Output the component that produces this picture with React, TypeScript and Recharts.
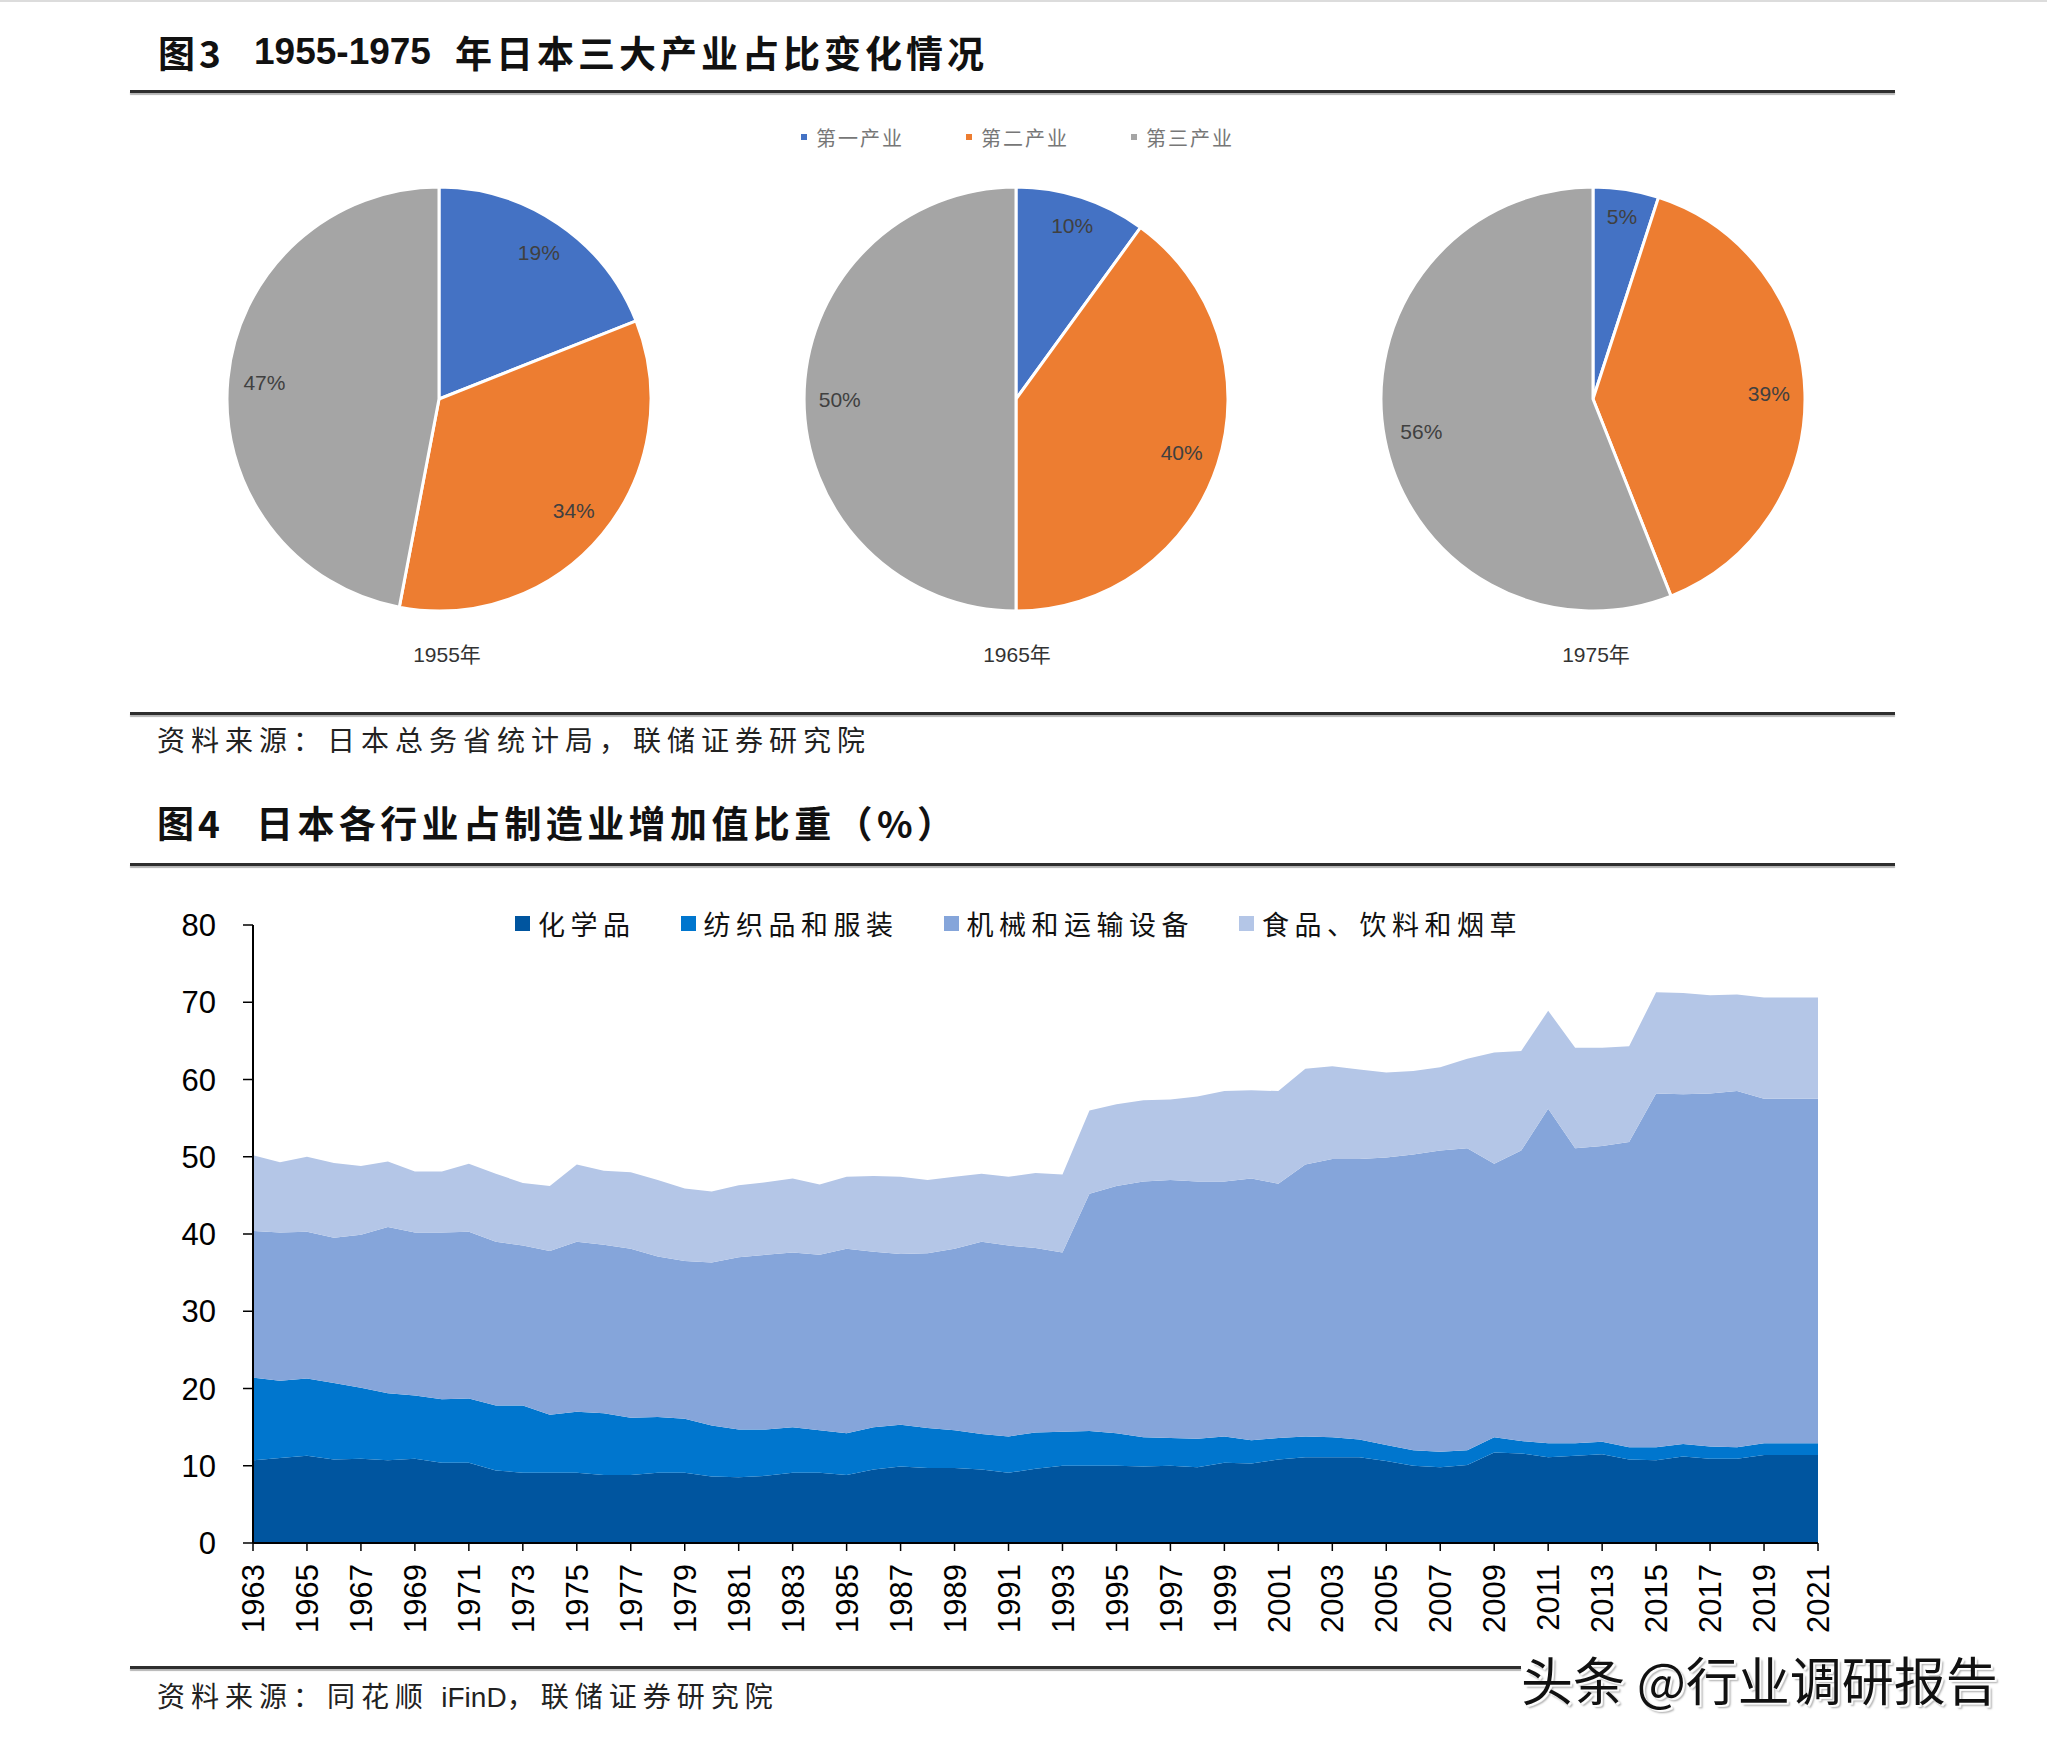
import React from 'react';
import { PieChart, Pie, Cell, AreaChart, Area, XAxis, YAxis } from 'recharts';

// 图3：三大产业占比
const sectors = ['第一产业', '第二产业', '第三产业'];
const sectorColors = ['#4472C4', '#ED7D31', '#A5A5A5'];
const pieYears = ['1955年', '1965年', '1975年'];
const share1955 = [19, 34, 47];
const share1965 = [10, 40, 50];
const share1975 = [5, 39, 56];

// 图4：各行业占制造业增加值比重（%）
const years = [
  '1963', '1964', '1965', '1966', '1967', '1968', '1969', '1970', '1971', '1972',
  '1973', '1974', '1975', '1976', '1977', '1978', '1979', '1980', '1981', '1982',
  '1983', '1984', '1985', '1986', '1987', '1988', '1989', '1990', '1991', '1992',
  '1993', '1994', '1995', '1996', '1997', '1998', '1999', '2000', '2001', '2002',
  '2003', '2004', '2005', '2006', '2007', '2008', '2009', '2010', '2011', '2012',
  '2013', '2014', '2015', '2016', '2017', '2018', '2019', '2020', '2021',
];
const chemicals = [
  10.7, 11.0, 11.3, 10.8, 10.9, 10.7, 10.9, 10.4, 10.4, 9.4,
  9.1, 9.1, 9.1, 8.8, 8.8, 9.1, 9.1, 8.6, 8.5, 8.7,
  9.1, 9.1, 8.8, 9.5, 9.9, 9.7, 9.7, 9.5, 9.1, 9.6,
  10.0, 10.0, 10.0, 9.9, 10.0, 9.8, 10.4, 10.3, 10.8, 11.1,
  11.1, 11.1, 10.6, 10.0, 9.8, 10.1, 11.7, 11.6, 11.1, 11.3,
  11.5, 10.8, 10.7, 11.2, 10.9, 10.9, 11.4, 11.4, 11.4,
];
const textiles = [
  10.7, 10.0, 10.0, 9.9, 9.2, 8.7, 8.2, 8.2, 8.3, 8.4,
  8.7, 7.5, 7.9, 8.0, 7.4, 7.2, 7.0, 6.6, 6.2, 6.0,
  5.9, 5.5, 5.4, 5.5, 5.4, 5.2, 4.9, 4.6, 4.7, 4.7,
  4.4, 4.5, 4.2, 3.8, 3.6, 3.7, 3.4, 3.0, 2.8, 2.7,
  2.6, 2.3, 2.1, 2.0, 2.0, 1.9, 2.0, 1.6, 1.8, 1.6,
  1.6, 1.6, 1.7, 1.6, 1.6, 1.5, 1.5, 1.5, 1.5,
];
const machinery = [
  19.0, 19.2, 19.0, 18.8, 19.8, 21.5, 21.1, 21.6, 21.6, 21.2,
  20.7, 21.2, 22.0, 21.8, 21.9, 20.8, 20.4, 21.1, 22.3, 22.6,
  22.6, 22.7, 23.9, 22.7, 22.1, 22.6, 23.5, 24.9, 24.7, 23.9,
  23.2, 30.7, 32.0, 33.1, 33.4, 33.3, 33.0, 33.9, 32.9, 35.2,
  36.0, 36.3, 37.2, 38.3, 39.0, 39.1, 35.4, 37.6, 43.3, 38.2,
  38.3, 39.5, 45.8, 45.3, 45.7, 46.1, 44.6, 44.6, 44.6,
];
const food = [
  9.8, 9.1, 9.7, 9.7, 8.9, 8.5, 7.9, 7.9, 8.8, 8.8,
  8.1, 8.4, 10.0, 9.6, 9.9, 9.9, 9.4, 9.2, 9.3, 9.4,
  9.6, 9.1, 9.3, 9.8, 10.0, 9.5, 9.3, 8.8, 8.9, 9.7,
  10.1, 10.8, 10.6, 10.5, 10.4, 11.0, 11.7, 11.4, 12.0, 12.4,
  12.0, 11.6, 11.0, 10.8, 10.8, 11.6, 14.4, 12.9, 12.7, 13.0,
  12.7, 12.4, 13.1, 13.1, 12.7, 12.5, 13.1, 13.1, 13.1,
];
const yTicks = [0, 10, 20, 30, 40, 50, 60, 70, 80];

const industries = [
  { key: 'chemicals', name: '化学品', color: '#00559F' },
  { key: 'textiles', name: '纺织品和服装', color: '#0076CE' },
  { key: 'machinery', name: '机械和运输设备', color: '#85A5DA' },
  { key: 'food', name: '食品、饮料和烟草', color: '#B4C6E7' },
];

const areaData = years.map((year, i) => ({
  year,
  chemicals: chemicals[i],
  textiles: textiles[i],
  machinery: machinery[i],
  food: food[i],
}));

const pieSets = [share1955, share1965, share1975].map((vals) =>
  vals.map((v, i) => ({ name: sectors[i], value: v }))
);

const CJK = "'Noto Sans CJK SC', sans-serif";
const LATIN = "'Liberation Sans', Arial, sans-serif";
const PIE_CX = [439, 1016, 1593];
const CAPTION_CX = [447, 1017, 1596];
const RAD = Math.PI / 180;

// inside-end style labels, pushed in a bit more where the label box is wider
function renderPieLabel(props: any) {
  const { cx, cy, midAngle, outerRadius, value } = props;
  const c = Math.cos(-midAngle * RAD);
  const s = Math.sin(-midAngle * RAD);
  const d = outerRadius * 0.935 - (Math.abs(c) * 22 + Math.abs(s) * 10);
  return (
    <text
      x={cx + d * c}
      y={cy + d * s}
      textAnchor="middle"
      dominantBaseline="central"
      fontSize={21}
      fontFamily={LATIN}
      fill="#404040"
    >
      {value}%
    </text>
  );
}

function YearTick(props: any) {
  const { x, y, payload } = props;
  return (
    <g transform={`translate(${x},${y})`}>
      <text
        transform="rotate(-90)"
        textAnchor="end"
        dy="0.36em"
        fontSize={31}
        fontFamily={LATIN}
        fill="#000"
      >
        {payload.value}
      </text>
    </g>
  );
}

function Rule({ top, right = 1895 }: { top: number; right?: number }) {
  return (
    <div
      style={{
        position: 'absolute',
        left: 130,
        top,
        width: right - 130,
        height: 3,
        background: '#2e2e2e',
        boxShadow: '0 2px 1px #b5b5b5',
      }}
    />
  );
}

const titleStyle: React.CSSProperties = {
  position: 'absolute',
  height: 50,
  lineHeight: '50px',
  fontSize: 37,
  fontWeight: 700,
  color: '#111',
  letterSpacing: 4,
  fontFamily: CJK,
  whiteSpace: 'nowrap',
};

const sourceStyle: React.CSSProperties = {
  position: 'absolute',
  left: 157,
  height: 40,
  lineHeight: '40px',
  fontSize: 28,
  color: '#222',
  letterSpacing: 6,
  fontFamily: CJK,
  whiteSpace: 'nowrap',
};

export default function App() {
  return (
    <div
      style={{
        position: 'absolute',
        left: 0,
        top: 0,
        width: 2047,
        height: 1752,
        background: '#fff',
        overflow: 'hidden',
      }}
    >
      <div style={{ position: 'absolute', left: 0, top: 0, width: 2047, height: 2, background: '#dcdcdc' }} />

      {/* 图3 */}
      <div style={{ ...titleStyle, left: 158, top: 27 }}>图3</div>
      <div style={{ ...titleStyle, left: 254, top: 27, fontFamily: LATIN, letterSpacing: 0 }}>1955-1975</div>
      <div style={{ ...titleStyle, left: 455, top: 27 }}>年日本三大产业占比变化情况</div>
      <Rule top={90} />

      <div
        style={{
          position: 'absolute',
          left: 801,
          top: 123,
          height: 28,
          display: 'flex',
          alignItems: 'center',
          fontFamily: CJK,
          fontSize: 20,
          letterSpacing: 2,
          color: '#777',
        }}
      >
        {sectors.map((s, i) => (
          <div key={s} style={{ display: 'flex', alignItems: 'center', marginRight: 62 }}>
            <span style={{ width: 6, height: 6, background: sectorColors[i], marginRight: 9 }} />
            <span>{s}</span>
          </div>
        ))}
      </div>

      <div style={{ position: 'absolute', left: 0, top: 120 }}>
        <PieChart width={2047} height={560} margin={{ top: 0, right: 0, bottom: 0, left: 0 }}>
          {pieSets.map((set, k) => (
            <Pie
              key={pieYears[k]}
              data={set}
              dataKey="value"
              nameKey="name"
              cx={PIE_CX[k]}
              cy={279}
              outerRadius={212}
              startAngle={90}
              endAngle={-270}
              stroke="#fff"
              strokeWidth={3}
              label={renderPieLabel}
              labelLine={false}
              isAnimationActive={false}
            >
              {set.map((d, i) => (
                <Cell key={d.name} fill={sectorColors[i]} />
              ))}
            </Pie>
          ))}
        </PieChart>
      </div>

      {pieYears.map((y, k) => (
        <div
          key={y}
          style={{
            position: 'absolute',
            left: CAPTION_CX[k] - 100,
            top: 640,
            width: 200,
            height: 30,
            lineHeight: '30px',
            textAlign: 'center',
            fontSize: 21,
            fontFamily: LATIN + ', ' + CJK,
            color: '#333',
          }}
        >
          {y}
        </div>
      ))}

      <Rule top={712} />
      <div style={{ ...sourceStyle, top: 719 }}>资料来源：日本总务省统计局，联储证券研究院</div>

      {/* 图4 */}
      <div style={{ ...titleStyle, left: 157, top: 797 }}>图4</div>
      <div style={{ ...titleStyle, left: 256, top: 797, letterSpacing: 4.4 }}>日本各行业占制造业增加值比重（%）</div>
      <Rule top={863} />

      <div
        style={{
          position: 'absolute',
          left: 515,
          top: 904,
          height: 38,
          display: 'flex',
          alignItems: 'center',
          fontFamily: CJK,
          fontSize: 27,
          letterSpacing: 5.5,
          color: '#111',
        }}
      >
        {industries.map((it) => (
          <div key={it.key} style={{ display: 'flex', alignItems: 'center', marginRight: 45 }}>
            <span style={{ width: 15, height: 15, background: it.color, marginRight: 8 }} />
            <span>{it.name}</span>
          </div>
        ))}
      </div>

      <div style={{ position: 'absolute', left: 0, top: 880 }}>
        <AreaChart
          width={2047}
          height={780}
          data={areaData}
          margin={{ top: 45, right: 229, left: 0, bottom: 17 }}
        >
          <XAxis
            dataKey="year"
            interval={1}
            tick={<YearTick />}
            tickSize={8}
            tickMargin={13}
            height={100}
            axisLine={{ stroke: '#000', strokeWidth: 2 }}
            tickLine={{ stroke: '#000', strokeWidth: 1.5 }}
          />
          <YAxis
            type="number"
            domain={[0, 80]}
            ticks={yTicks}
            width={253}
            tickSize={10}
            tickMargin={27}
            tick={{ fontSize: 31, fill: '#000', fontFamily: LATIN }}
            axisLine={{ stroke: '#000', strokeWidth: 2 }}
            tickLine={{ stroke: '#000', strokeWidth: 1.5 }}
          />
          {industries.map((it) => (
            <Area
              key={it.key}
              type="linear"
              dataKey={it.key}
              name={it.name}
              stackId="1"
              stroke="none"
              fill={it.color}
              fillOpacity={1}
              isAnimationActive={false}
            />
          ))}
        </AreaChart>
      </div>

      <Rule top={1666} right={1521} />
      <div style={{ ...sourceStyle, top: 1675 }}>
        资料来源：同花顺 <span style={{ letterSpacing: 0, fontFamily: LATIN }}>iFinD</span>，联储证券研究院
      </div>
      <div
        style={{
          position: 'absolute',
          left: 1521,
          top: 1649,
          height: 60,
          lineHeight: '60px',
          fontSize: 52,
          fontFamily: CJK,
          color: '#111',
          whiteSpace: 'nowrap',
          textShadow: '2px 2px 1px #fff, 3px 3px 2px rgba(0,0,0,0.35)',
        }}
      >
        头条 @行业调研报告
      </div>
    </div>
  );
}
